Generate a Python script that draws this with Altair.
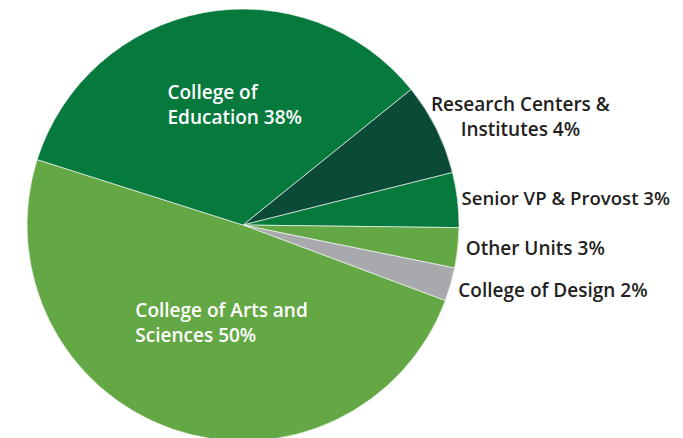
import math
import altair as alt
import pandas as pd

# Slice data (clockwise, starting at the Education / Research boundary)
categories = ["Research Centers & Institutes", "Senior VP & Provost", "Other Units",
              "College of Design", "College of Arts and Sciences", "College of Education"]
shares = [6.9, 4.1, 3.0, 2.5, 49.2, 34.3]          # slice sizes as drawn
labels = ["Research Centers &\nInstitutes 4%", "Senior VP & Provost 3%", "Other Units 3%",
          "College of Design 2%", "College of Arts and\nSciences 50%", "College of\nEducation 38%"]
colors = ["#0B4A36", "#067A3D", "#63A844", "#A7A9AC", "#63A844", "#067A3D"]

df = pd.DataFrame({"cat": categories, "share": shares, "label": labels,
                   "idx": list(range(len(categories)))})

start = math.radians(51.1)
theta = alt.Theta("share:Q", stack=True,
                  scale=alt.Scale(range=[start, start + 2 * math.pi]))
order = alt.Order("idx:Q")
cx, cy = 235, 217
FONT = "Open Sans"

base = alt.Chart(df)

arcs = base.mark_arc(outerRadius=216, stroke="#ffffff", strokeWidth=0.6).encode(
    theta=theta, order=order,
    color=alt.Color("cat:N", scale=alt.Scale(domain=categories, range=colors), legend=None),
    x=alt.value(cx), y=alt.value(cy),
)


def text_layer(names, size=19, **kw):
    cond = " || ".join(f"datum.cat == '{n}'" for n in names)
    return base.transform_calculate(
        txt=f"({cond}) ? datum.label : ''"
    ).mark_text(font=FONT, fontSize=size, fontWeight=600, lineBreak="\n",
                lineHeight=25, baseline="middle", **kw).encode(
        theta=theta, order=order, text="txt:N",
        x=alt.value(cx), y=alt.value(cy),
    )


senior = text_layer(["Senior VP & Provost"], size=18.6, radius=224, align="left",
                    dx=-4, color="#231F20")
other = text_layer(["Other Units"], radius=224, align="left", color="#231F20")
design = text_layer(["College of Design"], radius=224, align="left", dy=4,
                    color="#231F20")
research = text_layer(["Research Centers & Institutes"], radius=225, align="center",
                      dx=76, dy=-20, color="#231F20")
edu = text_layer(["College of Education"], radius=122, align="left", dx=-53, dy=-12,
                 color="#ffffff")
arts = text_layer(["College of Arts and Sciences"], radius=103, align="left", dx=-74,
                  dy=-11, color="#ffffff")

chart = alt.layer(arcs, senior, other, design, research, edu, arts).properties(
    width=667, height=430, padding=0, autosize="none"
).configure_view(stroke=None)

chart.save("out.html", embed_options={"renderer": "svg", "actions": False})
